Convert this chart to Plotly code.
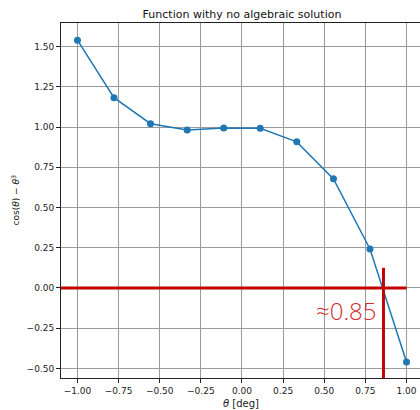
import plotly.graph_objects as go

theta = [-1.0, -0.778, -0.556, -0.333, -0.111, 0.111, 0.333, 0.556, 0.778, 1.0]
values = [1.540, 1.183, 1.021, 0.982, 0.995, 0.992, 0.908, 0.678, 0.242, -0.460]
root = 0.86
root_label = "≈0.85"
hline_x = [-1.1, 1.0]
hline_y = [0.0, 0.0]
vline_y = [-0.6, 0.125]
xticks = [-1.0, -0.75, -0.5, -0.25, 0.0, 0.25, 0.5, 0.75, 1.0]
yticks = [-0.5, -0.25, 0.0, 0.25, 0.5, 0.75, 1.0, 1.25, 1.5]

FONT = "DejaVu Sans"
RED_LINE = "#c40000"
RED_TEXT = "#d42a2a"

W, H = 420, 410

fig = go.Figure()
fig.add_trace(go.Scatter(
    x=theta, y=values, mode="lines+markers",
    line=dict(color="#1f77b4", width=1.5),
    marker=dict(color="#1f77b4", size=7),
    showlegend=False,
))
fig.add_trace(go.Scatter(
    x=hline_x, y=hline_y, mode="lines",
    line=dict(color=RED_LINE, width=3), showlegend=False,
))
fig.add_trace(go.Scatter(
    x=[root, root], y=vline_y, mode="lines",
    line=dict(color=RED_LINE, width=3), showlegend=False,
))

fig.add_annotation(
    x=0.83, y=-0.14, xref="x", yref="y", text=root_label,
    showarrow=False, xanchor="right", yanchor="middle",
    font=dict(family="Open Sans", size=24, color=RED_TEXT, weight=300),
)
fig.add_annotation(
    x=0.5, y=0, xref="paper", yref="paper", text="<i>θ</i> [deg]",
    showarrow=False, xanchor="center", yanchor="top", yshift=-18,
    font=dict(family=FONT, size=10, color="#222"),
)
fig.add_annotation(
    x=0, y=0.5, xref="paper", yref="paper",
    text="cos(<i>θ</i>) − <i>θ</i><sup>3</sup>",
    showarrow=False, textangle=-90, xanchor="center", yanchor="middle",
    xshift=-46,
    font=dict(family=FONT, size=9, color="#222"),
)

fig.update_layout(
    width=W, height=H,
    margin=dict(l=61, r=0, t=23, b=32),
    paper_bgcolor="white", plot_bgcolor="white",
    font=dict(family=FONT, size=9, color="#222"),
    title=dict(text="Function withy no algebraic solution",
               x=242 / W, xanchor="center",
               y=1 - 14 / H, yanchor="middle", yref="container",
               font=dict(family=FONT, size=11, color="#111")),
)
fig.update_xaxes(
    range=[-1.1, 1.082], tickvals=xticks,
    ticktext=[f"{v:.2f}".replace("-", "−") for v in xticks],
    tickfont=dict(size=9),
    showgrid=True, gridcolor="#9a9a9a", gridwidth=1,
    showline=True, linecolor="#222", linewidth=1, mirror=True,
    ticks="outside", ticklen=4, tickcolor="#222", zeroline=False,
)
fig.update_yaxes(
    range=[-0.56, 1.647], tickvals=yticks,
    ticktext=[f"{v:.2f}".replace("-", "−") for v in yticks],
    tickfont=dict(size=9),
    showgrid=True, gridcolor="#9a9a9a", gridwidth=1,
    showline=True, linecolor="#222", linewidth=1, mirror=False,
    ticks="outside", ticklen=4, tickcolor="#222", zeroline=False,
)

fig.write_html(
    "out.html",
    config={"displayModeBar": False},
    post_script="document.body.style.margin='0';document.body.style.overflow='hidden';",
)
